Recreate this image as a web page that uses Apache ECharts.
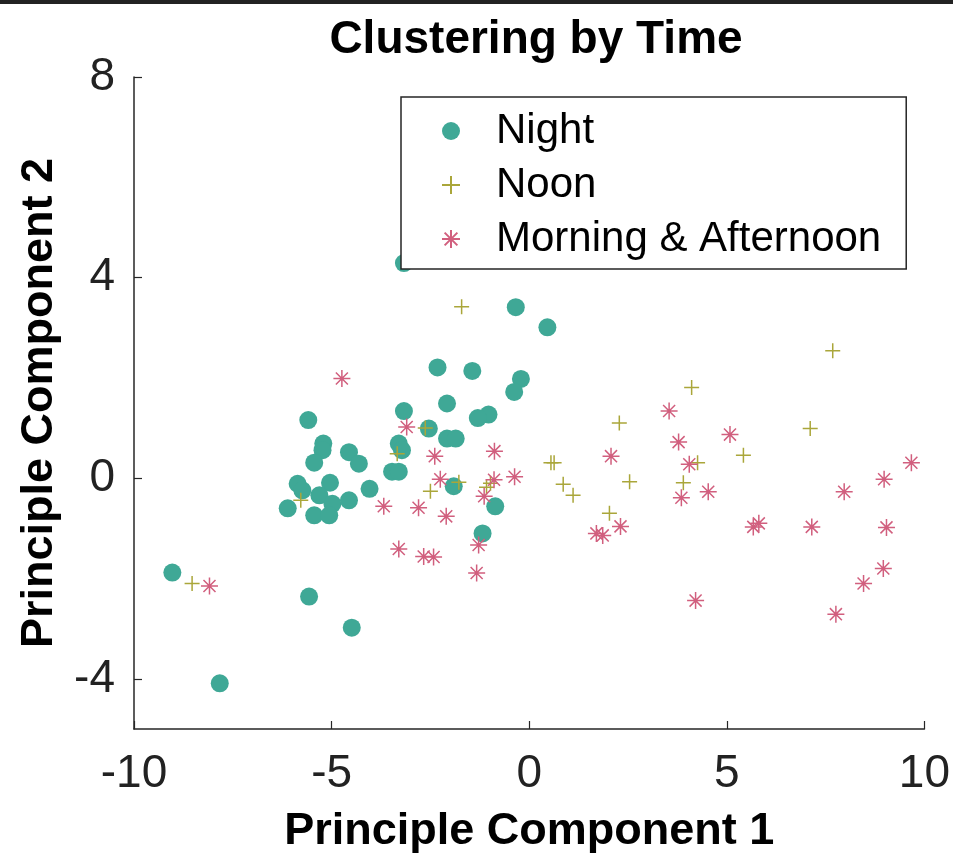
<!DOCTYPE html>
<html>
<head>
<meta charset="utf-8">
<title>Clustering by Time</title>
<script src="https://cdn.jsdelivr.net/npm/echarts@6/dist/echarts.min.js"></script>
<style>
  html, body { margin: 0; padding: 0; background: #fff; }
  #chart { width: 953px; height: 862px; }
</style>
</head>
<body>
<div id="chart"></div>
<script>
// values
var nightX = [-3.17, -0.34, 0.46, -2.32, -1.44, -0.21, -0.38, -2.08, -3.17, -1.03, -1.30, -5.59,
  -2.54, -2.08, -1.86, -5.21, -5.23, -3.30, -3.22, -4.56, -4.31, -5.44, -3.47, -3.30, -5.86,
  -5.74, -5.04, -5.31, -4.98, -6.11, -5.44, -5.06, -4.56, -4.04, -1.91, -0.86, -1.18, -9.03,
  -7.83, -5.57, -4.49];
var nightY = [4.29, 3.41, 3.01, 2.21, 2.14, 1.98, 1.72, 1.49, 1.34, 1.27, 1.20, 1.16,
  0.99, 0.79, 0.79, 0.69, 0.56, 0.69, 0.56, 0.52, 0.29, 0.31, 0.13, 0.13, -0.11,
  -0.24, -0.09, -0.34, -0.51, -0.60, -0.74, -0.74, -0.44, -0.21, -0.16, -0.56, -1.10, -1.88,
  -4.09, -2.36, -2.98];

var noonX = [-1.71, -2.63, -3.34, 0.55, 0.63, 0.86, 1.11, 2.28, 2.54, 2.03, -2.50, -1.78,
  -1.08, -0.98, -5.78, -8.53, 7.68, 4.11, 7.11, 5.42, 4.26, 3.90];
var noonY = [3.42, 1.00, 0.49, 0.31, 0.31, -0.12, -0.34, 1.10, -0.07, -0.70, -0.26, -0.08,
  -0.18, -0.10, -0.44, -2.10, 2.54, 1.81, 0.99, 0.46, 0.31, -0.09];

var maX = [-4.74, -3.10, -3.68, -2.80, -2.39, -0.88, -2.25, -0.89, -0.37, -1.14, -2.10, -1.28,
  -3.30, -2.67, -2.42, -1.33, -8.09, 2.07, 3.54, 1.70, 1.86, 2.31, 5.08, 3.78, 4.05, 9.67,
  8.98, 7.97, 4.53, 3.85, 5.67, 5.81, 7.15, 9.04, 8.96, 8.46, 7.76, 4.21];
var maY = [1.99, 1.02, -0.56, -0.59, 0.44, 0.54, -0.02, -0.03, 0.03, -0.36, -0.76, -1.33,
  -1.41, -1.56, -1.57, -1.89, -2.15, 0.44, 1.34, -1.10, -1.14, -0.96, 0.87, 0.72, 0.28, 0.31,
  -0.02, -0.27, -0.27, -0.39, -0.97, -0.90, -0.97, -0.98, -1.80, -2.10, -2.71, -2.44];

var seriesNames = ["Night", "Noon", "Morning & Afternoon"];
var xTicks = [-10, -5, 0, 5, 10];
var yTicks = [-4, 0, 4, 8];

var teal = "#3fa896";
var olive = "#aaa63a";
var rose = "#d15f7e";
var axisColor = "#262626";
var font = "'Liberation Sans', Arial, Helvetica, sans-serif";

var plusPath = "path://M0,-8L0,8M-8,0L8,0";
var starPath = "path://M0,-8L0,8M-8,0L8,0M-5.66,-5.66L5.66,5.66M-5.66,5.66L5.66,-5.66";

function zip(xs, ys) {
  return xs.map(function (x, i) { return [x, ys[i]]; });
}

var chart = echarts.init(document.getElementById("chart"), null, { renderer: "canvas" });

var axisCommon = {
  type: "value",
  axisLine: { show: true, onZero: false, lineStyle: { color: axisColor, width: 1.5 } },
  axisTick: { show: true, inside: true, length: 8, lineStyle: { color: axisColor, width: 1.2 } },
  splitLine: { show: false },
  nameLocation: "middle",
  nameTextStyle: { fontFamily: font, fontSize: 45, fontWeight: "bold", color: "#000" }
};

chart.setOption({
  animation: false,
  backgroundColor: "#fff",
  title: {
    text: "Clustering by Time",
    left: 531,
    textAlign: "center",
    top: 12,
    textStyle: { fontFamily: font, fontSize: 46, fontWeight: "bold", color: "#000" }
  },
  graphic: [{
    type: "rect",
    shape: { x: 0, y: 0, width: 953, height: 4 },
    style: { fill: "#222" }
  }],
  legend: {
    orient: "vertical",
    left: 401,
    top: 97,
    zlevel: 1,
    z: 20,
    padding: [12, 25, 8, 40],
    itemGap: 10,
    itemWidth: 18,
    itemHeight: 18,
    backgroundColor: "#fff",
    borderColor: axisColor,
    borderWidth: 1.5,
    borderRadius: 0,
    data: seriesNames,
    textStyle: {
      fontFamily: font, fontSize: 42, color: "#000",
      lineHeight: 44, padding: [0, 0, 0, 31]
    }
  },
  grid: { left: 134, right: 25, top: 77, bottom: 133, containLabel: false },
  xAxis: Object.assign({}, axisCommon, {
    min: -10, max: 10, interval: 5,
    name: "Principle Component 1",
    nameGap: 80,
    axisLabel: { margin: 22, fontFamily: font, fontSize: 46, color: "#222",
      customValues: xTicks },
    axisTick: Object.assign({}, axisCommon.axisTick, { customValues: xTicks })
  }),
  yAxis: Object.assign({}, axisCommon, {
    min: -5, max: 8,
    name: "Principle Component 2",
    nameGap: 72,
    axisLabel: { margin: 19, fontFamily: font, fontSize: 46, color: "#222",
      customValues: yTicks },
    axisTick: Object.assign({}, axisCommon.axisTick, { customValues: yTicks })
  }),
  series: [
    {
      name: seriesNames[0], type: "scatter",
      symbol: "circle", symbolSize: 18,
      itemStyle: { color: teal, opacity: 1 },
      data: zip(nightX, nightY)
    },
    {
      name: seriesNames[1], type: "scatter",
      symbol: plusPath, symbolSize: 15, symbolKeepAspect: true,
      itemStyle: { color: "rgba(0,0,0,0)", borderColor: olive, borderWidth: 1.5, opacity: 1 },
      data: zip(noonX, noonY)
    },
    {
      name: seriesNames[2], type: "scatter",
      symbol: starPath, symbolSize: 17, symbolKeepAspect: true,
      itemStyle: { color: "rgba(0,0,0,0)", borderColor: rose, borderWidth: 1.5, opacity: 1 },
      data: zip(maX, maY)
    }
  ]
});
</script>
</body>
</html>
